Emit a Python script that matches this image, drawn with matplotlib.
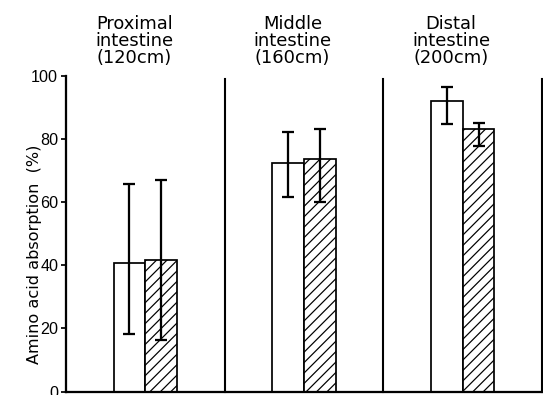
import numpy as np
import matplotlib
matplotlib.use('Agg')
from matplotlib import pyplot as plt

# data
groups = ['Proximal\nintestine\n(120cm)', 'Middle\nintestine\n(160cm)', 'Distal\nintestine\n(200cm)']
open_mean = [40.8, 72.3, 92.0]
open_low = [18.1, 61.5, 84.6]
open_high = [65.8, 82.1, 96.3]
hatch_mean = [41.7, 73.5, 83.0]
hatch_low = [16.2, 59.9, 77.7]
hatch_high = [66.9, 83.0, 84.9]
yticks = [0, 20, 40, 60, 80, 100]

dpi = 125
plt.rcParams['hatch.linewidth'] = 0.7
plt.rcParams['font.family'] = ['DejaVu Sans']

fig = plt.figure(figsize=(543/dpi, 395/dpi), dpi=dpi)
ax = fig.add_axes([66/543, 3.5/395, 476/543, 315.8/395])

x = np.arange(len(groups))
w = 0.2
xo = x + 0.4
xh = x + 0.6

om = np.array(open_mean)
hm = np.array(hatch_mean)
oerr = [om - np.array(open_low), np.array(open_high) - om]
herr = [hm - np.array(hatch_low), np.array(hatch_high) - hm]

ax.bar(xo, om, w, color='white', edgecolor='black', linewidth=1.0, zorder=2)
ax.bar(xh, hm, w, color='white', edgecolor='black', linewidth=1.0, hatch='////', zorder=2)
ax.errorbar(xo, om, yerr=oerr, fmt='none', ecolor='black', elinewidth=1.3, capsize=3.2, capthick=1.3, zorder=3)
ax.errorbar(xh, hm, yerr=herr, fmt='none', ecolor='black', elinewidth=1.3, capsize=3.2, capthick=1.3, zorder=3)

for d in [1, 2, 3]:
    ax.axvline(d, ymin=0, ymax=0.99, color='black', linewidth=1.2, clip_on=False, zorder=1)

ax.set_xlim(0, 3)
ax.set_ylim(0, 100)
ax.set_xticks([])
ax.set_yticks(yticks)
ax.tick_params(axis='y', length=3, width=1, pad=1.5, labelsize=9.3)
for lab in ax.get_yticklabels():
    lab.set_family('Liberation Sans')
for s in ['top', 'right']:
    ax.spines[s].set_visible(False)
for s in ['left', 'bottom']:
    ax.spines[s].set_linewidth(1.3)

for i, g in enumerate(groups):
    fig.text((66 + (i + 0.43) * 158.5) / 543, 1 - 15/395, g, ha='center', va='top',
             fontsize=10.3, linespacing=0.92)

fig.text(34/543, 1 - 254/395, 'Amino acid absorption  (%)', rotation=90, ha='center', va='center', fontsize=9.3)

fig.savefig('out.png', dpi=dpi)
